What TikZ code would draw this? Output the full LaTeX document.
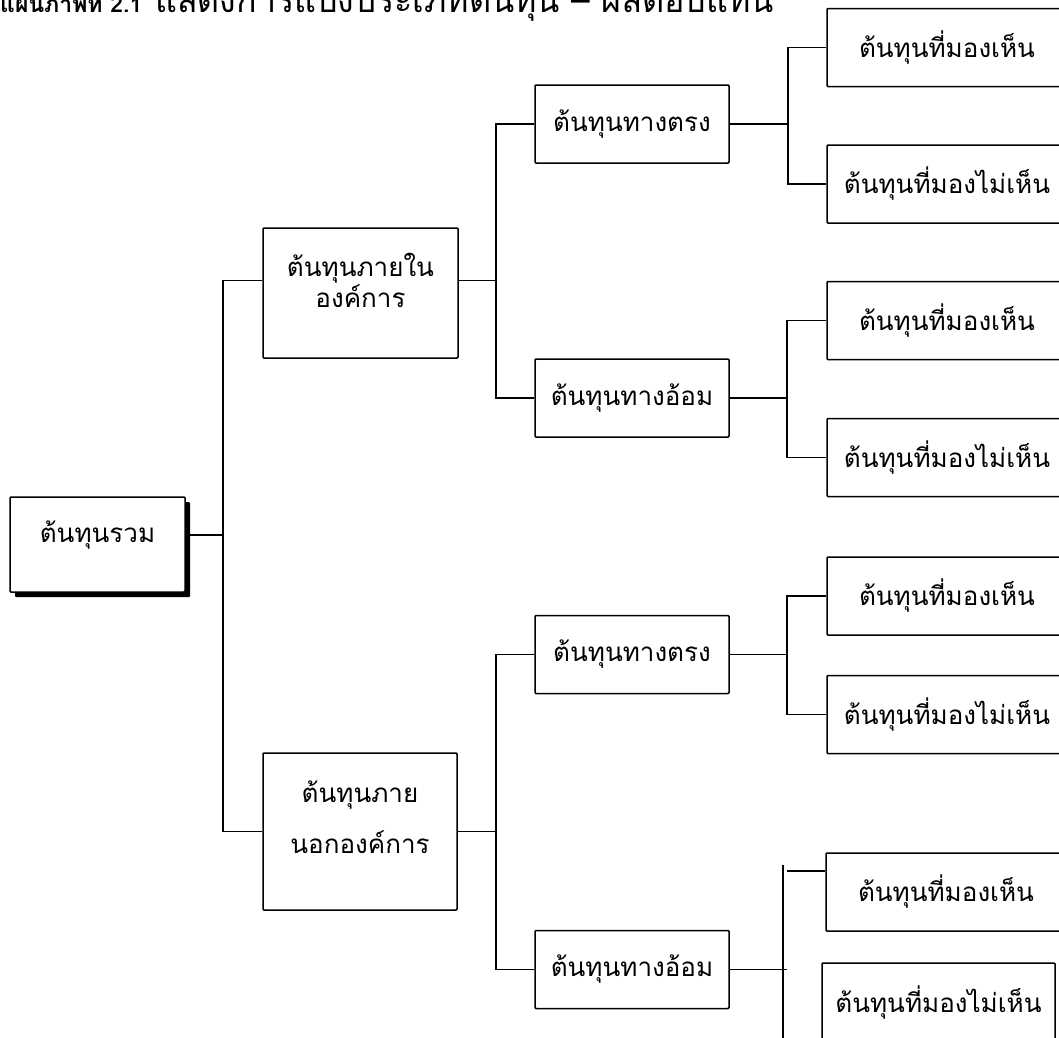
\documentclass[tikz,border=0pt]{standalone}
\usepackage{fontspec}
\newfontfamily\thaifont[Script=Thai]{Loma}
\usetikzlibrary{shadows}

\tikzset{
  costbox/.style={draw, line width=1.5pt, rounded corners=1pt, inner sep=2pt,
    fill=white, font=\thaifont\fontsize{26}{30}\selectfont},
  midbox/.style={costbox, minimum width=194pt, minimum height=78pt},
  leafbox/.style={costbox, minimum width=240pt, minimum height=78pt},
  boxtext/.style={inner sep=0pt, align=center, font=\thaifont\fontsize{26}{31}\selectfont},
  link/.style={line width=1.5pt},
}

\begin{document}
\begin{tikzpicture}[x=1pt, y=-1pt]
\clip (0,0) rectangle (1059,1037);

% title line, cut by the top edge
\node[anchor=base west, inner sep=0pt, font=\thaifont\bfseries\fontsize{23}{28}\selectfont] (title) at (0,12)
  {แผนภาพที่ 2.1};
\node[anchor=base west, inner sep=0pt, font=\thaifont\fontsize{34}{38}\selectfont] (title-txt) at (155,12)
  {แสดงการแบ่งประเภทต้นทุน – ผลตอบแทน};

% root
\node[costbox, minimum width=175pt, minimum height=95pt,
  drop shadow={shadow xshift=5pt, shadow yshift=-5pt, fill=black, opacity=1}] (root) at (97.5,544.5) {};
\node[boxtext] (root-txt) at (97.5,535) {ต้นทุนรวม};

% level 1
\node[costbox, minimum width=195pt, minimum height=130pt] (l1in) at (360.5,293) {};
\node[boxtext] (l1in-txt) at (360.5,280.5) {ต้นทุนภายใน\\องค์การ};
\node[costbox, minimum width=194pt, minimum height=157pt] (l1out) at (360,831.5) {};
\node[boxtext] (l1out-txt) at (360,817.5) {ต้นทุนภาย\\[20pt]นอกองค์การ};

% level 2
\node[midbox] (in-dir)  at (632,124)   {ต้นทุนทางตรง};
\node[midbox] (in-ind)  at (632,398)   {ต้นทุนทางอ้อม};
\node[midbox] (out-dir) at (632,654.5) {ต้นทุนทางตรง};
\node[midbox] (out-ind) at (632,969.5) {ต้นทุนทางอ้อม};

% level 3
\node[leafbox] (leaf1) at (947,47.5)  {ต้นทุนที่มองเห็น};
\node[leafbox] (leaf2) at (947,184)   {ต้นทุนที่มองไม่เห็น};
\node[leafbox] (leaf3) at (947,320.5) {ต้นทุนที่มองเห็น};
\node[leafbox] (leaf4) at (947,457.5) {ต้นทุนที่มองไม่เห็น};
\node[leafbox] (leaf5) at (947,596)   {ต้นทุนที่มองเห็น};
\node[leafbox] (leaf6) at (947,714.5) {ต้นทุนที่มองไม่เห็น};
\node[leafbox] (leaf7) at (946,892)   {ต้นทุนที่มองเห็น};
\node[leafbox, minimum width=233pt, minimum height=80pt] (leaf8) at (938.5,1003) {ต้นทุนที่มองไม่เห็น};

% joints
\coordinate (j0) at (223,535);
\coordinate (j1) at (496,280.5);
\coordinate (j2) at (496,831.5);
\coordinate (j3) at (788,124);
\coordinate (j4) at (787,398);
\coordinate (j5) at (787,654.5);
\coordinate (j6top) at (783,865);
\coordinate (j6bot) at (783,1040);
\coordinate (k6) at (787,969.5);
\coordinate (k7) at (787,871);

\draw[link] (root.east |- j0) -- (j0);
\draw[link] (l1in.west |- l1in-txt) -| (j0) |- (l1out.west);

\draw[link] (l1in.east |- j1) -- (j1);
\draw[link] (in-dir.west) -| (j1) |- (in-ind.west);
\draw[link] (l1out.east) -- (j2);
\draw[link] (out-dir.west) -| (j2) |- (out-ind.west);

\draw[link] (in-dir.east) -- (j3);
\draw[link] (leaf1.west) -| (j3) |- (leaf2.west);
\draw[link] (in-ind.east) -- (j4);
\draw[link] (leaf3.west) -| (j4) |- (leaf4.west);
\draw[link] (out-dir.east) -- (j5);
\draw[link] (leaf5.west) -| (j5) |- (leaf6.west);

\draw[link] (j6top) -- (j6bot);
\draw[link] (out-ind.east) -- (k6);
\draw[link] (k7) -- (leaf7.west |- k7);
\end{tikzpicture}
\end{document}
